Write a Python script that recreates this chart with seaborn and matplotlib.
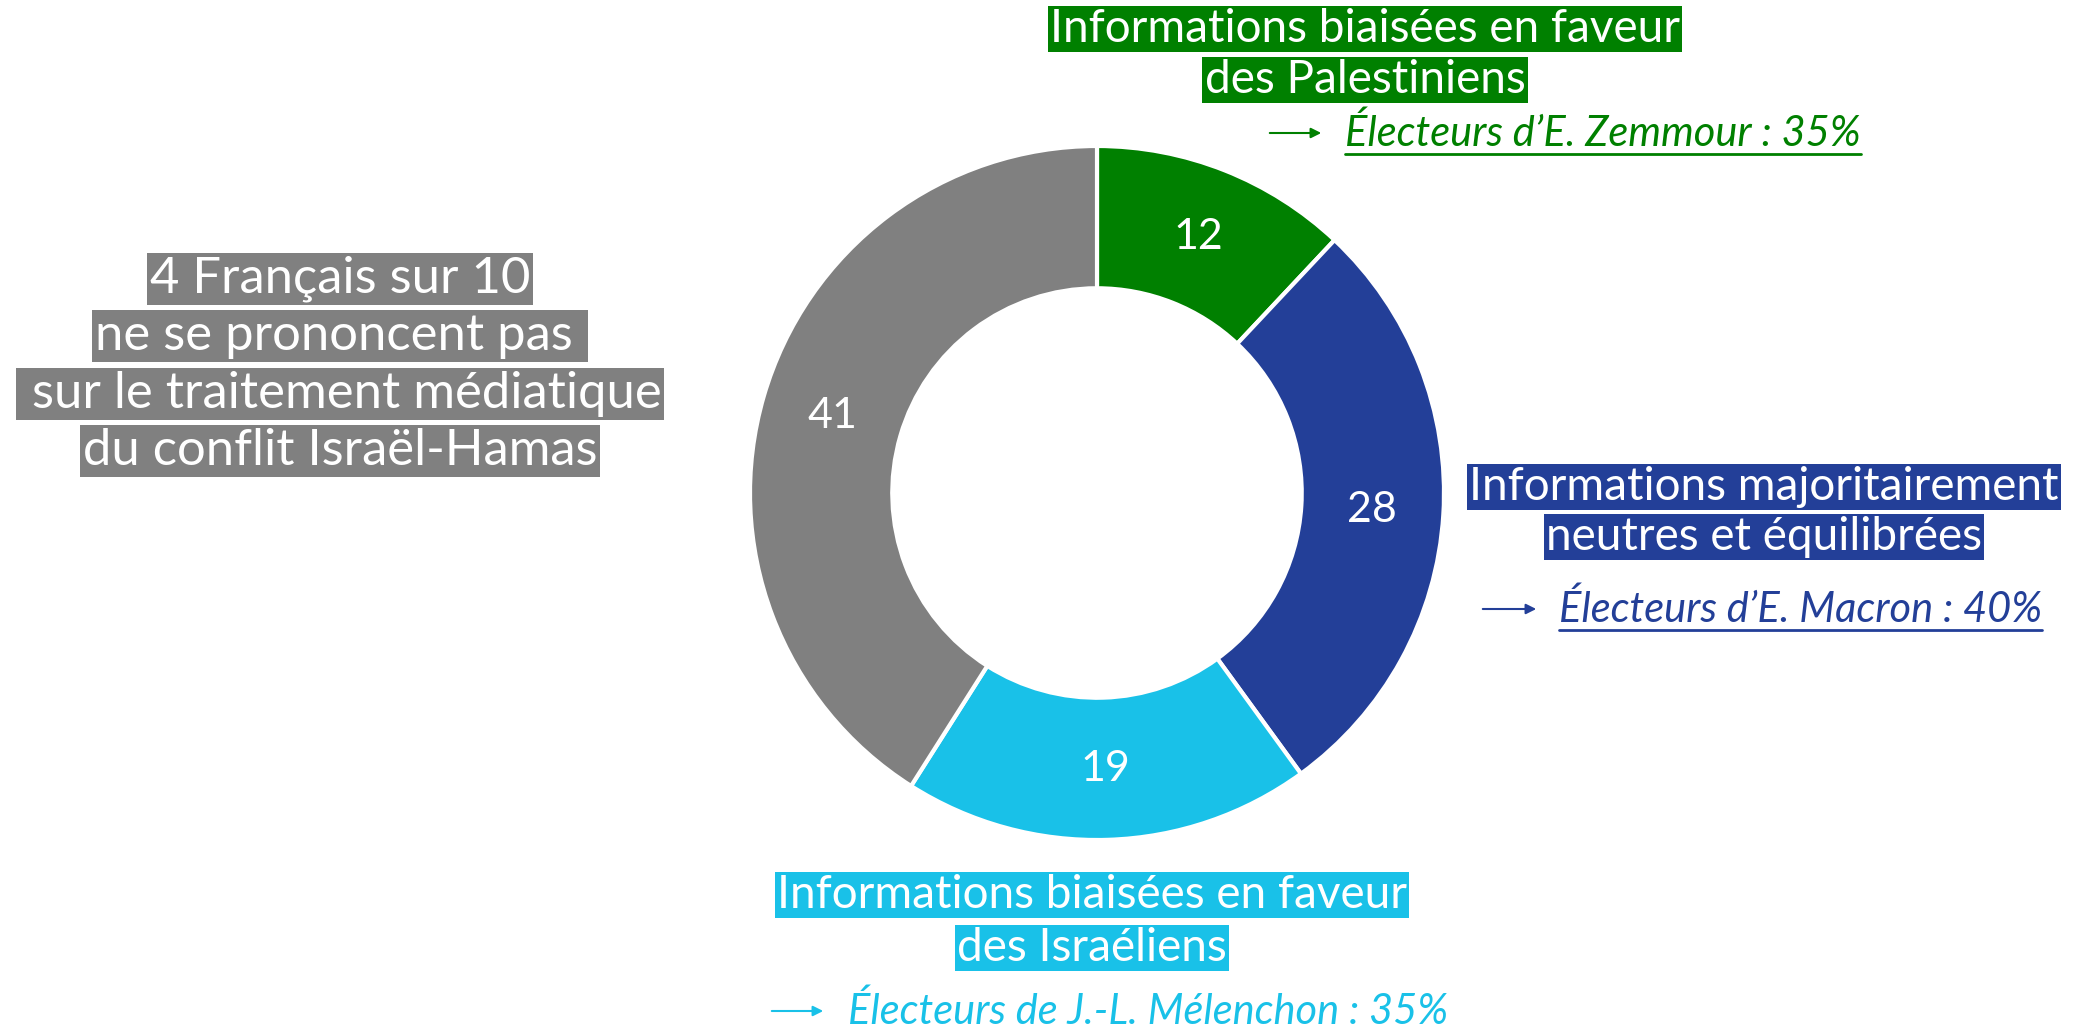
import matplotlib
matplotlib.use("Agg")
import matplotlib.pyplot as plt
import seaborn as sns
import numpy as np
from matplotlib.lines import Line2D
from matplotlib.patches import FancyArrowPatch

# Data
categories = ["Informations biaisées en faveur des Palestiniens",
              "Informations majoritairement neutres et équilibrées",
              "Informations biaisées en faveur des Israéliens",
              "Ne se prononcent pas"]
values = [12, 28, 19, 41]
colors = ["#008000", "#233F98", "#19C1E8", "#808080"]

label_lines = [
    ["Informations biaisées en faveur", "des Palestiniens"],
    ["Informations majoritairement", "neutres et équilibrées"],
    ["Informations biaisées en faveur", "des Israéliens"],
    ["4 Français sur 10", "ne se prononcent pas ", " sur le traitement médiatique", "du conflit Israël-Hamas"],
]
voter_notes = ["Électeurs d\u2019E. Zemmour : 35%",
               "Électeurs d\u2019E. Macron : 40%",
               "Électeurs de J.-L. Mélenchon : 35%"]
note_underlined = [True, True, False]

sns.set_theme(style="white")
plt.rcParams["font.family"] = ["Lato", "DejaVu Sans"]
palette = sns.color_palette(colors)

W, H = 2080, 1029
fig = plt.figure(figsize=(W / 100, H / 100), dpi=100)
fig.patch.set_facecolor("white")

def fx(x):
    return x / W

def fy(y):
    return 1 - y / H

# donut
cx, cy, R = 1097, 493, 347
ax = fig.add_axes([fx(cx - R), fy(cy + R), 2 * R / W, 2 * R / H])
wedges, _ = ax.pie(values, colors=palette, startangle=90, counterclock=False,
                   radius=1, wedgeprops=dict(width=0.41, edgecolor="white", linewidth=3))
ax.set_xlim(-1, 1)
ax.set_ylim(-1, 1)
ax.set_aspect("equal")
ax.axis("off")

# value labels in the ring
cum = np.cumsum([0] + values[:-1])
total = sum(values)
for v, c in zip(values, cum):
    ang = np.deg2rad(90 - (c + v / 2) / total * 360)
    ax.text(0.795 * np.cos(ang), 0.795 * np.sin(ang), str(v), color="white",
            fontsize=31, ha="center", va="center")

# category labels
line_pos = [
    (1365, [29, 80], 33),
    (1764, [487, 537], 33),
    (1092, [895, 948], 33),
    (340, [279, 336, 394, 451], 36.5),
]
for lines, (x, ys, fs), col in zip(label_lines, line_pos, colors):
    for line, y in zip(lines, ys):
        fig.text(fx(x), fy(y), line, color="white", fontsize=fs, ha="center", va="center",
                 bbox=dict(boxstyle="square,pad=0.05", facecolor=col, edgecolor="none"))

# voter notes with arrows
note_pos = [
    ((1267, 1324), 1345, 133),
    ((1480, 1539), 1559, 609),
    ((769, 826), 848, 1011),
]
note_texts = []
for note, (arr, tx, ty), col, ul in zip(voter_notes, note_pos, colors, note_underlined):
    fig.add_artist(FancyArrowPatch(
        (fx(arr[0]), fy(ty)), (fx(arr[1]), fy(ty)), transform=fig.transFigure,
        arrowstyle="-|>,head_length=6,head_width=3", color=col, lw=1.5))
    t = fig.text(fx(tx), fy(ty), note, color=col, fontsize=30, style="italic",
                 ha="left", va="center")
    note_texts.append((t, col, ul))

fig.canvas.draw()
renderer = fig.canvas.get_renderer()
for t, col, ul in note_texts:
    if not ul:
        continue
    bb = t.get_window_extent(renderer)
    yline = bb.y0 - 1
    fig.add_artist(Line2D([bb.x0 / W, bb.x1 / W], [yline / H, yline / H],
                          transform=fig.transFigure, color=col, lw=2))

fig.savefig("out.png", dpi=100, facecolor="white")
